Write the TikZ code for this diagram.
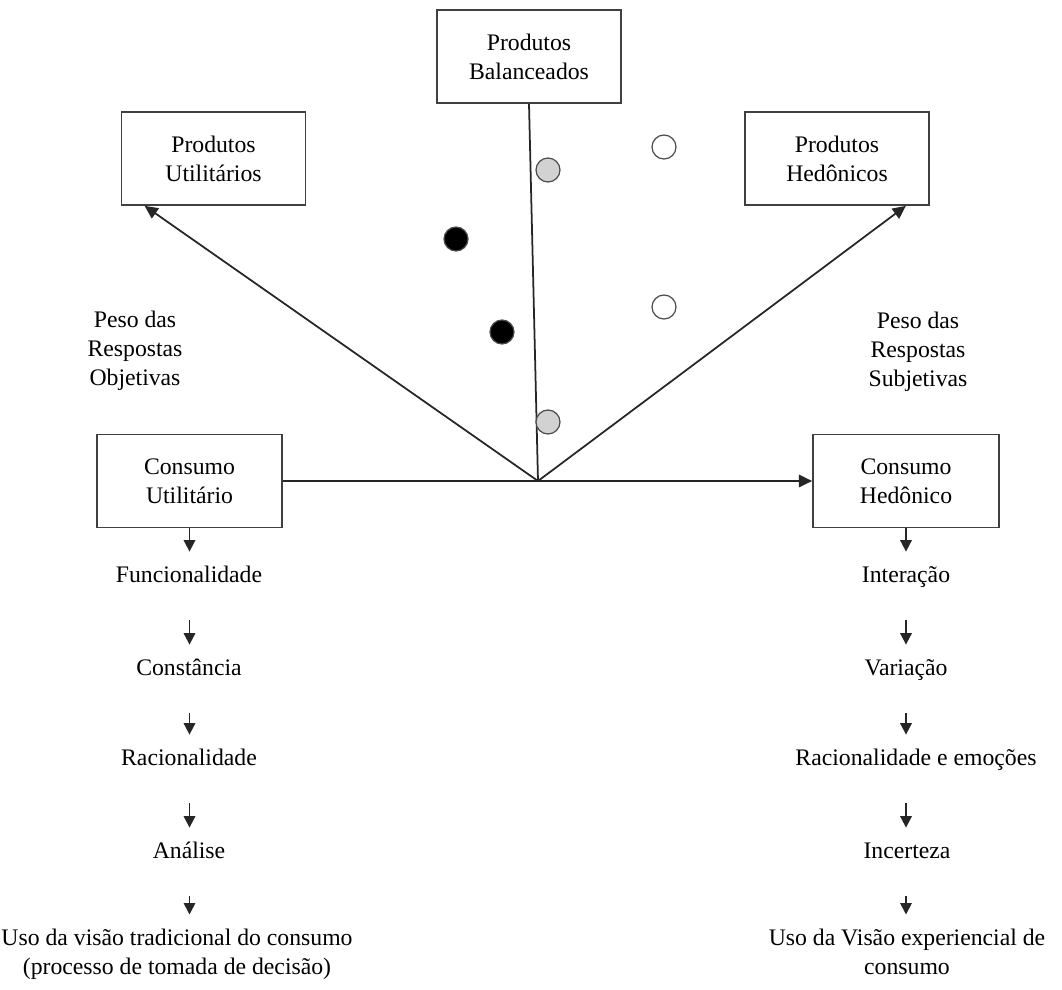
\documentclass[tikz,border=0pt]{standalone}
\usepackage{fontspec}
\setmainfont{Liberation Serif}
\usetikzlibrary{arrows.meta}

\newcommand{\fonte}{\fontsize{13.5}{16.5}\selectfont}

\tikzset{
  caixa/.style={draw=black!75, line width=1pt, minimum width=3.68cm,
    minimum height=1.86cm, align=center, font=\fonte},
  etapa/.style={inner sep=0pt, text height=9pt, text depth=3pt, font=\fonte},
  rotulo/.style={inner sep=0pt, align=center, font=\fonte},
  linha/.style={draw=black!85, line width=1pt},
  seta/.style={linha, -{Triangle[length=7.5pt,width=7pt]}},
  setinha/.style={linha, -{Triangle[length=6.5pt,width=6.5pt]}},
  bola/.style={circle, draw=black!70, line width=0.7pt, minimum size=0.48cm, inner sep=0pt}
}

\begin{document}
\begin{tikzpicture}[x=0.02cm,y=-0.02cm]
\useasboundingbox (0,0) rectangle (1062,990);

% caixas dos produtos
\node[caixa] (pb) at (529,56.5) {Produtos\\Balanceados};
\node[caixa] (pu) at (213.5,158.5) {Produtos\\Utilitários};
\node[caixa] (ph) at (837,158.5) {Produtos\\Hedônicos};

% caixas do consumo
\node[caixa, minimum width=3.7cm] (cu) at (189.5,481) {Consumo\\Utilitário};
\node[caixa, minimum width=3.72cm] (ch) at (906,481) {Consumo\\Hedônico};

% eixos a partir da origem
\coordinate (O) at (538,481);
\draw[linha] (O) -- (pb.south);
\draw[seta] (O) -- ([xshift=0.48cm]pu.south west);
\draw[seta] (O) -- ([xshift=-0.48cm]ph.south east);
\draw[seta] (cu.east) -- (ch.west);

% pesos
\node[rotulo] (po) at (135,351) {Peso das\\Respostas\\Objetivas};
\node[rotulo] (ps) at (918,352) {Peso das\\Respostas\\Subjetivas};

% bolinhas
\node[bola, fill=gray!35] (cinza1) at (548,170) {};
\node[bola, fill=white] (branca1) at (664,147) {};
\node[bola, fill=black] (preta1) at (456,239) {};
\node[bola, fill=black] (preta2) at (502,332) {};
\node[bola, fill=white] (branca2) at (664,307) {};
\node[bola, fill=gray!35] (cinza2) at (548,422) {};

% coluna utilitaria
\node[etapa] (u1) at (189,577) {Funcionalidade};
\node[etapa] (u2) at (189,670) {Constância};
\node[etapa] (u3) at (189,760) {Racionalidade};
\node[etapa] (u4) at (189,853) {Análise};
\node[rotulo, anchor=north] (u5) at (177,929) {Uso da visão tradicional do consumo\\(processo de tomada de decisão)};

% coluna hedonica
\node[etapa] (h1) at (906,577) {Interação};
\node[etapa] (h2) at (906,670) {Variação};
\node[etapa] (h3) at (916,760) {Racionalidade e emoções};
\node[etapa] (h4) at (907,853) {Incerteza};
\node[rotulo, anchor=north] (h5) at (907,929) {Uso da Visão experiencial de\\consumo};

% setas entre as etapas
\draw[setinha, shorten >=0.29cm] (cu.south) -- (cu.south |- u1.north);
\draw[setinha, shorten >=0.29cm] (ch.south) -- (ch.south |- h1.north);
\foreach \a/\b/\c in {u1/u2/cu, u2/u3/cu, u3/u4/cu, u4/u5/cu,
                      h1/h2/ch, h2/h3/ch, h3/h4/ch, h4/h5/ch}
  \draw[setinha, shorten <=0.65cm, shorten >=0.29cm]
    (\a.south -| \c.south) -- (\b.north -| \c.south);
\end{tikzpicture}
\end{document}
